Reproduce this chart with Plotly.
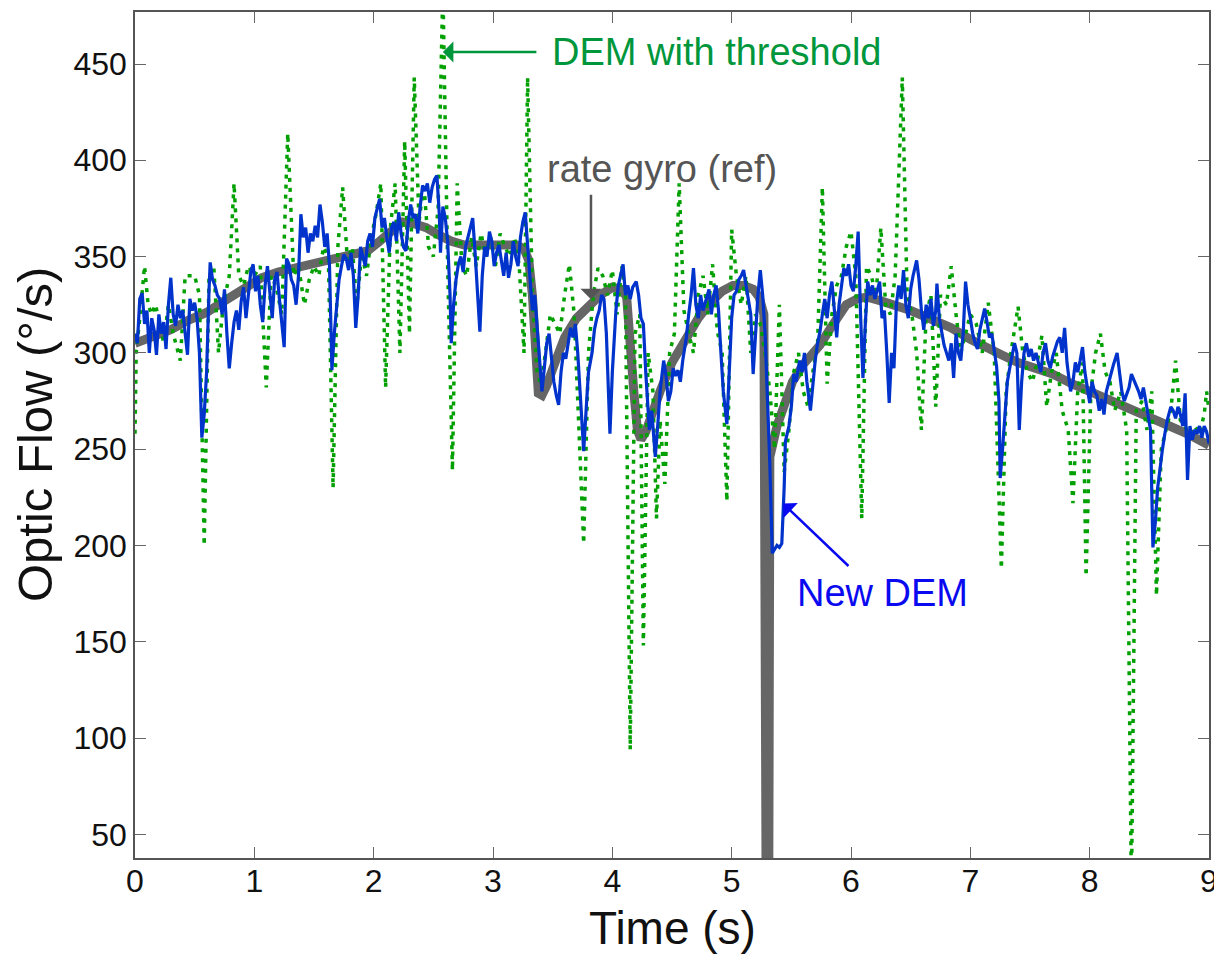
import plotly.graph_objects as go

# rate gyro reference (time s, optic flow deg/s)
gyro_pts = [
    (0.00, 305), (0.15, 308), (0.30, 312), (0.45, 317), (0.60, 321), (0.75, 327),
    (0.90, 333), (1.06, 339), (1.20, 342), (1.35, 344), (1.50, 346), (1.65, 348),
    (1.80, 350), (1.95, 353), (2.05, 358), (2.15, 364), (2.24, 368), (2.34, 367),
    (2.44, 365), (2.55, 361), (2.65, 358), (2.76, 356), (2.90, 356), (3.00, 357),
    (3.10, 357), (3.20, 356), (3.26, 354), (3.30, 348), (3.33, 330), (3.36, 290),
    (3.38, 279), (3.41, 278), (3.45, 283), (3.52, 295), (3.60, 308), (3.70, 318),
    (3.81, 325), (3.90, 330), (4.00, 334), (4.08, 333), (4.12, 329), (4.15, 310),
    (4.18, 280), (4.21, 260), (4.24, 255), (4.28, 259), (4.33, 268), (4.40, 280),
    (4.50, 295), (4.62, 308), (4.72, 318), (4.82, 326), (4.92, 332), (5.01, 335),
    (5.10, 335), (5.18, 333), (5.23, 329), (5.27, 320), (5.29, 0), (5.31, 0),
    (5.32, 246), (5.38, 262), (5.45, 276), (5.51, 285), (5.60, 294), (5.68, 300),
    (5.74, 304), (5.82, 312), (5.90, 320), (5.96, 325), (6.05, 328), (6.13, 329),
    (6.25, 327), (6.38, 325), (6.50, 322), (6.65, 318), (6.84, 313), (7.00, 307),
    (7.15, 302), (7.26, 299), (7.40, 295), (7.55, 292), (7.69, 289), (7.85, 284),
    (8.00, 280), (8.12, 276), (8.25, 273), (8.40, 269), (8.54, 265), (8.68, 261),
    (8.82, 258), (9.00, 252),
]

# DEM with threshold
dem_pts = [
    (0.00, 258), (0.01, 300), (0.04, 318), (0.08, 345), (0.11, 325), (0.14, 320),
    (0.17, 325), (0.20, 318), (0.24, 305), (0.28, 325), (0.32, 310), (0.38, 296),
    (0.42, 340), (0.50, 340), (0.54, 330), (0.58, 200), (0.62, 340), (0.66, 345),
    (0.70, 300), (0.74, 325), (0.79, 340), (0.83, 388), (0.87, 340), (0.91, 335),
    (0.95, 345), (1.00, 340), (1.05, 345), (1.10, 282), (1.14, 340), (1.18, 335),
    (1.23, 320), (1.28, 414), (1.33, 340), (1.37, 345), (1.42, 325), (1.46, 338),
    (1.50, 345), (1.54, 340), (1.58, 355), (1.62, 350), (1.66, 230), (1.70, 355),
    (1.74, 386), (1.78, 348), (1.82, 355), (1.86, 325), (1.90, 352), (1.94, 340),
    (1.98, 360), (2.02, 372), (2.06, 388), (2.10, 282), (2.14, 365), (2.18, 388),
    (2.22, 300), (2.26, 410), (2.30, 310), (2.34, 443), (2.38, 368), (2.42, 388),
    (2.46, 355), (2.50, 350), (2.54, 375), (2.58, 490), (2.62, 345), (2.66, 239),
    (2.70, 388), (2.74, 345), (2.78, 340), (2.82, 360), (2.86, 345), (2.90, 362),
    (2.94, 350), (2.98, 360), (3.02, 345), (3.06, 362), (3.10, 355), (3.14, 350),
    (3.18, 360), (3.22, 345), (3.26, 300), (3.29, 443), (3.33, 330), (3.37, 290),
    (3.40, 284), (3.44, 300), (3.48, 320), (3.52, 315), (3.56, 310), (3.60, 330),
    (3.64, 346), (3.68, 320), (3.72, 260), (3.76, 201), (3.80, 300), (3.84, 330),
    (3.88, 344), (3.92, 340), (3.96, 330), (4.00, 343), (4.04, 320), (4.08, 345),
    (4.11, 330), (4.15, 94), (4.19, 310), (4.23, 320), (4.26, 148), (4.30, 300),
    (4.34, 280), (4.37, 214), (4.40, 265), (4.44, 232), (4.48, 300), (4.52, 310),
    (4.56, 388), (4.60, 322), (4.64, 310), (4.68, 300), (4.72, 330), (4.76, 340),
    (4.80, 320), (4.84, 346), (4.88, 311), (4.92, 300), (4.96, 223), (5.00, 364),
    (5.04, 340), (5.08, 325), (5.12, 340), (5.16, 300), (5.20, 320), (5.24, 315),
    (5.28, 300), (5.32, 280), (5.36, 250), (5.40, 325), (5.44, 238), (5.48, 260),
    (5.52, 290), (5.56, 300), (5.60, 280), (5.64, 272), (5.68, 290), (5.72, 305),
    (5.76, 386), (5.80, 284), (5.84, 320), (5.88, 335), (5.92, 340), (5.96, 355),
    (6.00, 363), (6.04, 340), (6.09, 214), (6.13, 345), (6.17, 340), (6.21, 330),
    (6.25, 365), (6.29, 325), (6.33, 320), (6.37, 340), (6.43, 443), (6.47, 330),
    (6.51, 320), (6.55, 300), (6.59, 260), (6.63, 320), (6.67, 330), (6.71, 272),
    (6.75, 330), (6.80, 325), (6.84, 345), (6.88, 320), (6.92, 300), (6.96, 310),
    (7.00, 320), (7.05, 315), (7.10, 300), (7.15, 326), (7.20, 300), (7.26, 188),
    (7.30, 280), (7.34, 300), (7.40, 324), (7.44, 300), (7.48, 290), (7.52, 285),
    (7.56, 295), (7.60, 309), (7.64, 272), (7.68, 290), (7.72, 300), (7.77, 270),
    (7.82, 260), (7.86, 222), (7.90, 280), (7.94, 295), (7.97, 184), (8.01, 280),
    (8.05, 300), (8.09, 310), (8.13, 290), (8.17, 285), (8.21, 270), (8.26, 280),
    (8.31, 260), (8.35, 20), (8.39, 270), (8.44, 275), (8.48, 260), (8.52, 280),
    (8.56, 174), (8.60, 250), (8.64, 260), (8.68, 270), (8.72, 296), (8.76, 265),
    (8.80, 262), (8.84, 255), (8.88, 262), (8.92, 258), (8.96, 268), (8.98, 280),
    (9.00, 270),
]

# New DEM
new_pts = [
    (0.00, 310), (0.02, 305), (0.04, 328), (0.06, 331), (0.08, 315), (0.10, 322),
    (0.12, 300), (0.14, 318), (0.16, 312), (0.18, 299), (0.20, 320), (0.22, 310),
    (0.24, 316), (0.26, 302), (0.28, 325), (0.30, 339), (0.32, 320), (0.34, 314),
    (0.36, 325), (0.38, 318), (0.40, 322), (0.42, 312), (0.44, 299), (0.46, 328),
    (0.48, 322), (0.50, 326), (0.52, 318), (0.54, 300), (0.56, 256), (0.58, 268),
    (0.60, 290), (0.62, 332), (0.63, 347), (0.65, 338), (0.67, 335), (0.69, 330),
    (0.71, 328), (0.73, 320), (0.75, 333), (0.77, 310), (0.79, 292), (0.81, 305),
    (0.83, 316), (0.85, 322), (0.87, 312), (0.89, 327), (0.91, 334), (0.93, 318),
    (0.95, 330), (0.97, 342), (0.99, 346), (1.01, 332), (1.03, 340), (1.05, 325),
    (1.07, 316), (1.09, 335), (1.11, 345), (1.13, 330), (1.15, 318), (1.17, 338),
    (1.19, 342), (1.21, 328), (1.23, 315), (1.25, 303), (1.27, 349), (1.29, 346),
    (1.31, 338), (1.33, 335), (1.35, 325), (1.37, 340), (1.39, 372), (1.41, 360),
    (1.43, 365), (1.45, 352), (1.47, 362), (1.49, 358), (1.51, 366), (1.53, 360),
    (1.55, 377), (1.57, 368), (1.59, 355), (1.61, 362), (1.63, 345), (1.65, 291),
    (1.67, 310), (1.69, 325), (1.71, 338), (1.73, 345), (1.75, 351), (1.77, 349),
    (1.79, 343), (1.81, 352), (1.83, 340), (1.85, 313), (1.87, 330), (1.89, 355),
    (1.91, 350), (1.93, 345), (1.95, 358), (1.97, 362), (1.99, 355), (2.01, 370),
    (2.03, 375), (2.05, 380), (2.07, 365), (2.09, 370), (2.11, 360), (2.13, 352),
    (2.15, 365), (2.17, 368), (2.19, 358), (2.21, 373), (2.23, 362), (2.25, 355),
    (2.27, 353), (2.29, 368), (2.31, 377), (2.33, 370), (2.35, 372), (2.37, 362),
    (2.39, 376), (2.41, 387), (2.43, 384), (2.45, 388), (2.47, 378), (2.49, 386),
    (2.51, 390), (2.53, 392), (2.55, 372), (2.56, 352), (2.58, 376), (2.60, 370),
    (2.62, 358), (2.64, 330), (2.65, 305), (2.67, 325), (2.69, 338), (2.71, 346),
    (2.73, 350), (2.75, 342), (2.77, 355), (2.79, 360), (2.81, 365), (2.83, 370),
    (2.85, 352), (2.87, 330), (2.89, 311), (2.91, 340), (2.93, 355), (2.95, 350),
    (2.97, 363), (2.99, 358), (3.01, 345), (3.03, 352), (3.05, 356), (3.07, 348),
    (3.09, 340), (3.11, 352), (3.13, 339), (3.15, 346), (3.17, 358), (3.19, 350),
    (3.21, 345), (3.23, 360), (3.25, 368), (3.27, 373), (3.29, 355), (3.31, 340),
    (3.33, 322), (3.35, 330), (3.37, 315), (3.39, 300), (3.41, 280), (3.43, 292),
    (3.45, 305), (3.47, 310), (3.49, 298), (3.51, 285), (3.53, 278), (3.55, 273),
    (3.57, 290), (3.59, 300), (3.61, 297), (3.63, 305), (3.65, 313), (3.67, 308),
    (3.69, 315), (3.71, 300), (3.73, 282), (3.75, 260), (3.76, 249), (3.78, 270),
    (3.80, 290), (3.83, 300), (3.85, 312), (3.87, 318), (3.89, 322), (3.91, 330),
    (3.93, 328), (3.95, 310), (3.97, 280), (3.98, 258), (4.00, 290), (4.03, 322),
    (4.05, 335), (4.07, 340), (4.09, 346), (4.11, 330), (4.13, 335), (4.15, 328),
    (4.17, 334), (4.20, 337), (4.22, 330), (4.24, 318), (4.26, 315), (4.28, 290),
    (4.31, 260), (4.33, 270), (4.36, 246), (4.38, 262), (4.40, 280), (4.43, 296),
    (4.45, 288), (4.47, 275), (4.49, 280), (4.51, 292), (4.53, 288), (4.55, 291),
    (4.57, 285), (4.59, 296), (4.62, 308), (4.64, 320), (4.66, 330), (4.68, 344),
    (4.70, 325), (4.72, 318), (4.74, 330), (4.76, 322), (4.79, 328), (4.81, 333),
    (4.83, 320), (4.85, 330), (4.87, 335), (4.89, 322), (4.91, 300), (4.93, 280),
    (4.96, 263), (4.98, 290), (5.00, 318), (5.02, 330), (5.04, 332), (5.06, 338),
    (5.08, 340), (5.10, 343), (5.12, 335), (5.14, 328), (5.16, 320), (5.18, 289),
    (5.20, 310), (5.22, 330), (5.24, 343), (5.26, 330), (5.28, 310), (5.29, 294),
    (5.31, 260), (5.32, 242), (5.34, 196), (5.36, 198), (5.38, 200), (5.40, 199),
    (5.42, 201), (5.44, 230), (5.45, 254), (5.48, 262), (5.50, 272), (5.52, 289),
    (5.54, 285), (5.57, 296), (5.59, 290), (5.61, 300), (5.63, 285), (5.66, 270),
    (5.68, 285), (5.70, 296), (5.72, 305), (5.74, 311), (5.76, 320), (5.78, 328),
    (5.80, 318), (5.82, 330), (5.84, 337), (5.86, 322), (5.88, 308), (5.90, 325),
    (5.92, 335), (5.94, 344), (5.96, 340), (5.98, 346), (6.00, 335), (6.02, 332),
    (6.04, 345), (6.06, 363), (6.08, 320), (6.10, 287), (6.12, 315), (6.14, 337),
    (6.16, 330), (6.18, 335), (6.20, 328), (6.22, 332), (6.24, 337), (6.26, 318),
    (6.28, 322), (6.30, 300), (6.32, 274), (6.34, 300), (6.36, 292), (6.38, 325),
    (6.40, 335), (6.42, 328), (6.44, 343), (6.46, 325), (6.48, 318), (6.50, 333),
    (6.52, 340), (6.55, 348), (6.57, 338), (6.59, 322), (6.61, 312), (6.63, 325),
    (6.65, 318), (6.67, 328), (6.69, 314), (6.71, 322), (6.72, 336), (6.74, 318),
    (6.76, 310), (6.78, 304), (6.80, 300), (6.82, 296), (6.84, 305), (6.86, 287),
    (6.88, 310), (6.90, 300), (6.92, 296), (6.94, 310), (6.96, 337), (6.98, 325),
    (7.00, 318), (7.02, 310), (7.04, 305), (7.06, 302), (7.08, 312), (7.10, 318),
    (7.12, 323), (7.14, 316), (7.16, 308), (7.18, 310), (7.20, 300), (7.22, 293),
    (7.24, 275), (7.25, 235), (7.27, 250), (7.29, 270), (7.31, 285), (7.33, 292),
    (7.35, 298), (7.37, 305), (7.39, 300), (7.41, 260), (7.43, 285), (7.45, 300),
    (7.47, 305), (7.49, 298), (7.51, 302), (7.53, 296), (7.55, 300), (7.57, 295),
    (7.59, 290), (7.61, 300), (7.63, 305), (7.65, 296), (7.67, 292), (7.69, 298),
    (7.71, 302), (7.73, 306), (7.75, 308), (7.77, 300), (7.79, 313), (7.81, 295),
    (7.84, 280), (7.86, 285), (7.88, 295), (7.90, 290), (7.92, 296), (7.94, 303),
    (7.96, 290), (7.98, 282), (8.00, 274), (8.02, 285), (8.04, 280), (8.06, 278),
    (8.08, 270), (8.10, 276), (8.12, 268), (8.14, 280), (8.16, 285), (8.18, 290),
    (8.20, 294), (8.23, 300), (8.25, 288), (8.27, 280), (8.29, 275), (8.31, 278),
    (8.33, 282), (8.35, 289), (8.37, 286), (8.39, 284), (8.41, 280), (8.43, 276),
    (8.45, 282), (8.47, 275), (8.49, 268), (8.51, 260), (8.53, 199), (8.55, 212),
    (8.57, 230), (8.59, 242), (8.61, 250), (8.63, 258), (8.65, 265), (8.68, 272),
    (8.70, 270), (8.72, 266), (8.74, 272), (8.76, 268), (8.78, 262), (8.80, 279),
    (8.82, 234), (8.84, 262), (8.86, 255), (8.88, 260), (8.90, 258), (8.92, 262),
    (8.94, 256), (8.96, 262), (8.98, 259), (9.00, 253),
]

y_ticks = [50, 100, 150, 200, 250, 300, 350, 400, 450]
x_ticks = [0, 1, 2, 3, 4, 5, 6, 7, 8, 9]

FONT = "Liberation Sans, Arial, Helvetica, sans-serif"
GRAY = "#666666"
GREEN = "#00A000"
BLUE = "#0033CC"


def split(pts):
    return [p[0] for p in pts], [p[1] for p in pts]


fig = go.Figure()
gx, gy = split(gyro_pts)
fig.add_trace(go.Scatter(x=gx, y=gy, mode="lines",
                         line=dict(color=GRAY, width=9), name="rate gyro (ref)"))
dx, dy = split(dem_pts)
fig.add_trace(go.Scatter(x=dx, y=dy, mode="lines",
                         line=dict(color=GREEN, width=3.5, dash="4px,6px"),
                         name="DEM with threshold"))
nx, ny = split(new_pts)
fig.add_trace(go.Scatter(x=nx, y=ny, mode="lines",
                         line=dict(color=BLUE, width=3.2), name="New DEM"))

axis_common = dict(showgrid=False, zeroline=False, showline=True, linecolor="#555555",
                   linewidth=1.5, mirror="ticks", ticks="inside", ticklen=11,
                   tickcolor="#666666", tickwidth=1,
                   tickfont=dict(family=FONT, size=32, color="#111111"))

fig.update_xaxes(range=[0, 9], tickvals=x_ticks, ticklabelstandoff=-6, **axis_common)
fig.update_yaxes(range=[37.7, 477], tickvals=y_ticks, **axis_common)

annotations = [
    # axis titles
    dict(text="Optic Flow (°/s)", xref="paper", yref="paper", x=0, y=0.5,
         xanchor="center", yanchor="middle", xshift=-100, textangle=-90,
         showarrow=False, font=dict(family=FONT, size=49, color="#111111")),
    dict(text="Time (s)", xref="paper", yref="paper", x=0.5, y=0,
         xanchor="center", yanchor="middle", yshift=-70, showarrow=False,
         font=dict(family=FONT, size=46, color="#111111")),
    # labels
    dict(text="DEM with threshold", x=4.873, y=456.2, showarrow=False,
         font=dict(family=FONT, size=38, color="#00963C")),
    dict(text="", x=2.58, y=456.2, ax=95, ay=0, showarrow=True,
         arrowhead=1, arrowsize=1.4, arrowwidth=2.5, arrowcolor="#00963C"),
    dict(text="rate gyro (ref)", x=4.42, y=395.7, showarrow=False,
         font=dict(family=FONT, size=38, color="#555555")),
    dict(text="", x=3.821, y=327.9, ax=0, ay=-106, showarrow=True,
         arrowhead=1, arrowsize=1.4, arrowwidth=2.5, arrowcolor="#555555"),
    dict(text="New DEM", x=6.26, y=175.2, showarrow=False,
         font=dict(family=FONT, size=38, color="#0A0AF0")),
    dict(text="", x=5.43, y=221.8, ax=67, ay=64, showarrow=True,
         arrowhead=1, arrowsize=1.4, arrowwidth=2.5, arrowcolor="#0A0AF0"),
]

# page body adds an 8px offset, so the figure is sized and placed to compensate
fig.update_layout(
    width=1214, height=946,
    margin=dict(l=127, r=13, t=2, b=96),
    paper_bgcolor="white", plot_bgcolor="white",
    showlegend=False,
    annotations=annotations,
)

fig.write_html("out.html")
